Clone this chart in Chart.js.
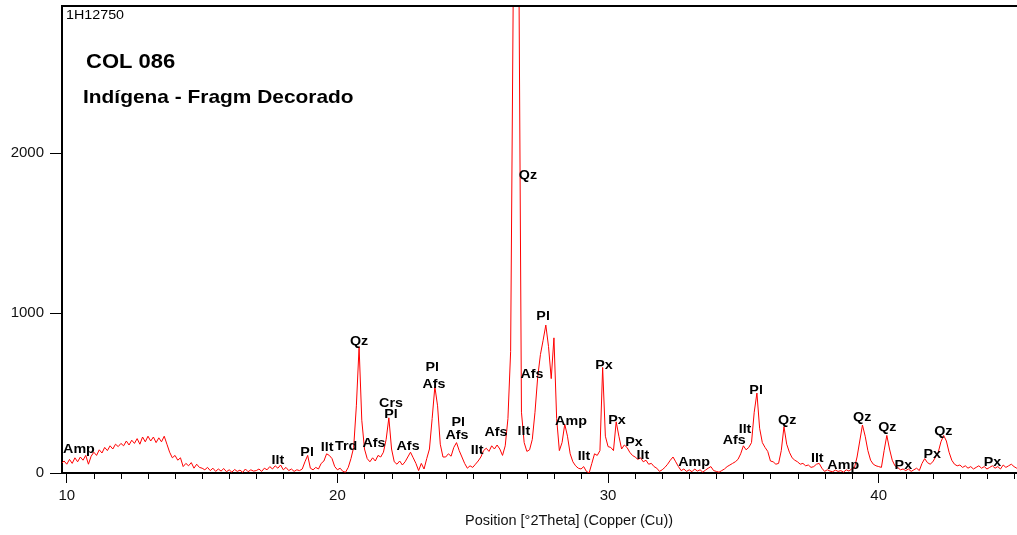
<!DOCTYPE html>
<html>
<head>
<meta charset="utf-8">
<title>COL 086 - Indígena - Fragm Decorado</title>
<script src="https://cdn.jsdelivr.net/npm/chart.js@4.4.1/dist/chart.umd.min.js"></script>
<style>
    html, body { margin: 0; padding: 0; background: #fff; overflow: hidden; }
    #wrap { width: 1080px; height: 535px; }
</style>
</head>
<body>
<div id="wrap"><canvas id="xrdChart" width="1080" height="535"></canvas></div>
<script>
// Scan settings (°2Theta, Cu)
const scanStart = 9.8;
const scanStep = 0.1;

// Counts, one row per degree
const counts = [
    60, 75,                                              // 9.8
    55, 85, 60, 95, 70, 100, 80, 110, 55, 105,           // 10
    130, 110, 145, 125, 160, 140, 170, 150, 180, 165,    // 11
    185, 170, 200, 175, 205, 185, 215, 180, 225, 195,    // 12
    230, 200, 225, 190, 220, 195, 230, 180, 130, 95,     // 13
    110, 80, 95, 40, 60, 45, 65, 30, 55, 35,             // 14
    30, 20, 35, 15, 30, 10, 25, 12, 28, 8,               // 15
    20, 5, 22, 10, 18, 4, 25, 8, 20, 12,                 // 16
    15, 25, 10, 30, 20, 40, 25, 45, 30, 50,              // 17
    20, 35, 15, 25, 10, 20, 15, 25, 70, 110,             // 18
    30, 20, 35, 25, 60, 75, 120, 110, 90, 40,            // 19
    20, 30, 10, 5, 35, 90, 160, 420, 790, 330,           // 20
    150, 90, 70, 95, 75, 110, 100, 130, 210, 345,        // 21
    150, 70, 55, 75, 50, 70, 100, 130, 95, 60,           // 22
    15, 60, 25, 90, 150, 340, 540, 420, 180, 100,        // 23
    100, 120, 105, 160, 190, 140, 100, 60, 30, 45,       // 24
    35, 55, 75, 100, 140, 155, 135, 170, 150, 175,       // 25
    150, 110, 170, 340, 760, 3100, 4400, 3300, 380, 190, // 26
    135, 145, 210, 380, 600, 740, 830, 925, 790, 590,    // 27
    845, 340, 140, 190, 305, 230, 120, 70, 45, 30,       // 28
    25, 40, 10, 0, 60, 120, 110, 140, 660, 230,          // 29
    165, 160, 140, 320, 230, 150, 175, 160, 130, 110,    // 30
    100, 85, 95, 70, 80, 55, 60, 40, 30, 10,             // 31
    20, 35, 55, 80, 100, 70, 40, 15, 25, 10,             // 32
    20, 8, 25, 12, 20, 5, 18, 30, 40, 15,                // 33
    10, 5, 15, 25, 40, 50, 60, 70, 85, 120,              // 34
    170, 145, 160, 190, 380, 500, 280, 190, 160, 135,    // 35
    75, 70, 55, 60, 140, 290, 180, 130, 95, 80,          // 36
    70, 55, 60, 45, 50, 35, 40, 55, 60, 30,              // 37
    10, 20, 12, 8, 18, 10, 15, 5, 20, 12,                // 38
    25, 30, 100, 200, 300, 230, 140, 80, 55, 45,         // 39
    40, 35, 140, 235, 150, 80, 45, 35, 20, 25,           // 40
    15, 25, 10, 20, 30, 15, 60, 90, 65, 55,              // 41
    70, 100, 130, 195, 235, 200, 130, 80, 55, 45,        // 42
    50, 35, 45, 30, 40, 25, 35, 45, 30, 40,              // 43
    25, 35, 45, 30, 40, 25, 50, 35, 45, 55,              // 44
    40, 30, 35                                           // 45
];

const xTickValues = [10, 20, 30, 40];
const yTickValues = [0, 1000, 2000];

// Phase identifications: name, °2Theta, height (counts) of the label
const phaseNames = ['Amp', 'Ilt', 'Pl', 'Ilt', 'Trd', 'Qz', 'Afs', 'Crs', 'Pl', 'Afs',
    'Pl', 'Afs', 'Pl', 'Afs', 'Ilt', 'Afs', 'Qz', 'Ilt', 'Afs', 'Pl',
    'Amp', 'Ilt', 'Px', 'Px', 'Px', 'Ilt', 'Amp', 'Afs', 'Ilt', 'Pl',
    'Qz', 'Ilt', 'Amp', 'Qz', 'Qz', 'Px', 'Px', 'Qz', 'Px'];
const phaseAngles = [10.45, 17.80, 18.88, 19.62, 20.32, 20.80, 21.35, 21.98, 21.98, 22.61,
    23.50, 23.57, 24.46, 24.42, 25.16, 25.86, 27.04, 26.89, 27.19, 27.60,
    28.63, 29.11, 29.85, 30.33, 30.96, 31.29, 33.18, 34.66, 35.06, 35.47,
    36.62, 37.73, 38.69, 39.39, 40.32, 40.91, 41.98, 42.39, 44.20];
const phaseHeights = [146, 77, 127, 158, 164, 821, 183, 433, 364, 164,
    658, 552, 314, 233, 139, 252, 1858, 258, 614, 977,
    321, 102, 671, 327, 189, 108, 64, 202, 271, 514,
    327, 89, 46, 346, 283, 46, 114, 258, 64];

const fontFamily = "'Liberation Sans', Arial, sans-serif";
const textStretch = 1.1;

function stretchedText(ctx, text, x, y, align) {
    const w = ctx.measureText(text).width * textStretch;
    const left = align === 'center' ? x - w / 2 : x;
    ctx.save();
    ctx.translate(left, y);
    ctx.scale(textStretch, 1);
    ctx.textAlign = 'left';
    ctx.fillText(text, 0, 0);
    ctx.restore();
}

// Draws frame top, minor ticks, sample text and phase labels
const decorations = {
    id: 'decorations',
    afterDraw(chart) {
        const ctx = chart.ctx;
        const area = chart.chartArea;
        const xScale = chart.scales.x;
        const yScale = chart.scales.y;
        ctx.save();

        // top frame line
        ctx.strokeStyle = '#000';
        ctx.lineWidth = 2;
        ctx.beginPath();
        ctx.moveTo(area.left - 1, area.top);
        ctx.lineTo(chart.width, area.top);
        ctx.stroke();

        // minor ticks every degree
        ctx.lineWidth = 1;
        for (let a = Math.ceil(xScale.min); a <= xScale.max; a++) {
            if (a % 10 === 0) continue;
            const px = Math.round(xScale.getPixelForValue(a)) + 0.5;
            ctx.beginPath();
            ctx.moveTo(px, area.bottom);
            ctx.lineTo(px, area.bottom + 6);
            ctx.stroke();
        }

        ctx.fillStyle = '#000';
        ctx.textBaseline = 'alphabetic';
        ctx.font = '13px ' + fontFamily;
        stretchedText(ctx, '1H12750', area.left + 4, 19, 'left');
        ctx.font = 'bold 20px ' + fontFamily;
        stretchedText(ctx, 'COL 086', 86, 68, 'left');
        ctx.font = 'bold 19px ' + fontFamily;
        stretchedText(ctx, 'Indígena - Fragm Decorado', 83, 103, 'left');

        ctx.font = 'bold 13px ' + fontFamily;
        ctx.textBaseline = 'middle';
        phaseNames.forEach((name, i) => {
            const px = xScale.getPixelForValue(phaseAngles[i]);
            const py = yScale.getPixelForValue(phaseHeights[i]);
            stretchedText(ctx, name, px, py, 'center');
        });
        ctx.restore();
    }
};

document.addEventListener('DOMContentLoaded', function() {
    const points = counts.map((c, i) => ({ x: +(scanStart + i * scanStep).toFixed(2), y: c }));
    const ctx = document.getElementById('xrdChart').getContext('2d');

    new Chart(ctx, {
        type: 'line',
        data: {
            datasets: [{
                data: points,
                borderColor: '#ff0000',
                borderWidth: 1,
                pointRadius: 0,
                tension: 0,
                fill: false
            }]
        },
        options: {
            responsive: false,
            animation: false,
            layout: { padding: { top: 6, right: 4, bottom: 0, left: 0 } },
            plugins: {
                legend: { display: false },
                tooltip: { enabled: false }
            },
            scales: {
                x: {
                    type: 'linear',
                    min: 9.823,
                    max: 47.29,
                    afterBuildTicks: s => { s.ticks = xTickValues.map(v => ({ value: v })); },
                    afterFit: s => { s.height = 62; s.paddingLeft = 0; s.paddingRight = 0; },
                    grid: { drawOnChartArea: false, tickLength: 10, color: '#000', tickWidth: 1 },
                    border: { color: '#000', width: 2 },
                    ticks: {
                        color: '#111', padding: 4, maxRotation: 0, autoSkip: false,
                        font: { family: fontFamily, size: 15 },
                        callback: v => String(v)
                    },
                    title: {
                        display: true,
                        text: 'Position [°2Theta] (Copper (Cu))',
                        color: '#111',
                        font: { family: fontFamily, size: 14.5 },
                        padding: { top: 0, bottom: 5 }
                    }
                },
                y: {
                    min: 0,
                    max: 2920,
                    afterBuildTicks: s => { s.ticks = yTickValues.map(v => ({ value: v })); },
                    afterFit: s => { s.width = 62; s.paddingTop = 0; s.paddingBottom = 0; },
                    grid: { drawOnChartArea: false, tickLength: 12, color: '#000', tickWidth: 1 },
                    border: { color: '#000', width: 2 },
                    ticks: {
                        color: '#111', padding: 6,
                        font: { family: fontFamily, size: 15 },
                        callback: v => String(v)
                    }
                }
            }
        },
        plugins: [decorations]
    });
});
</script>
</body>
</html>
